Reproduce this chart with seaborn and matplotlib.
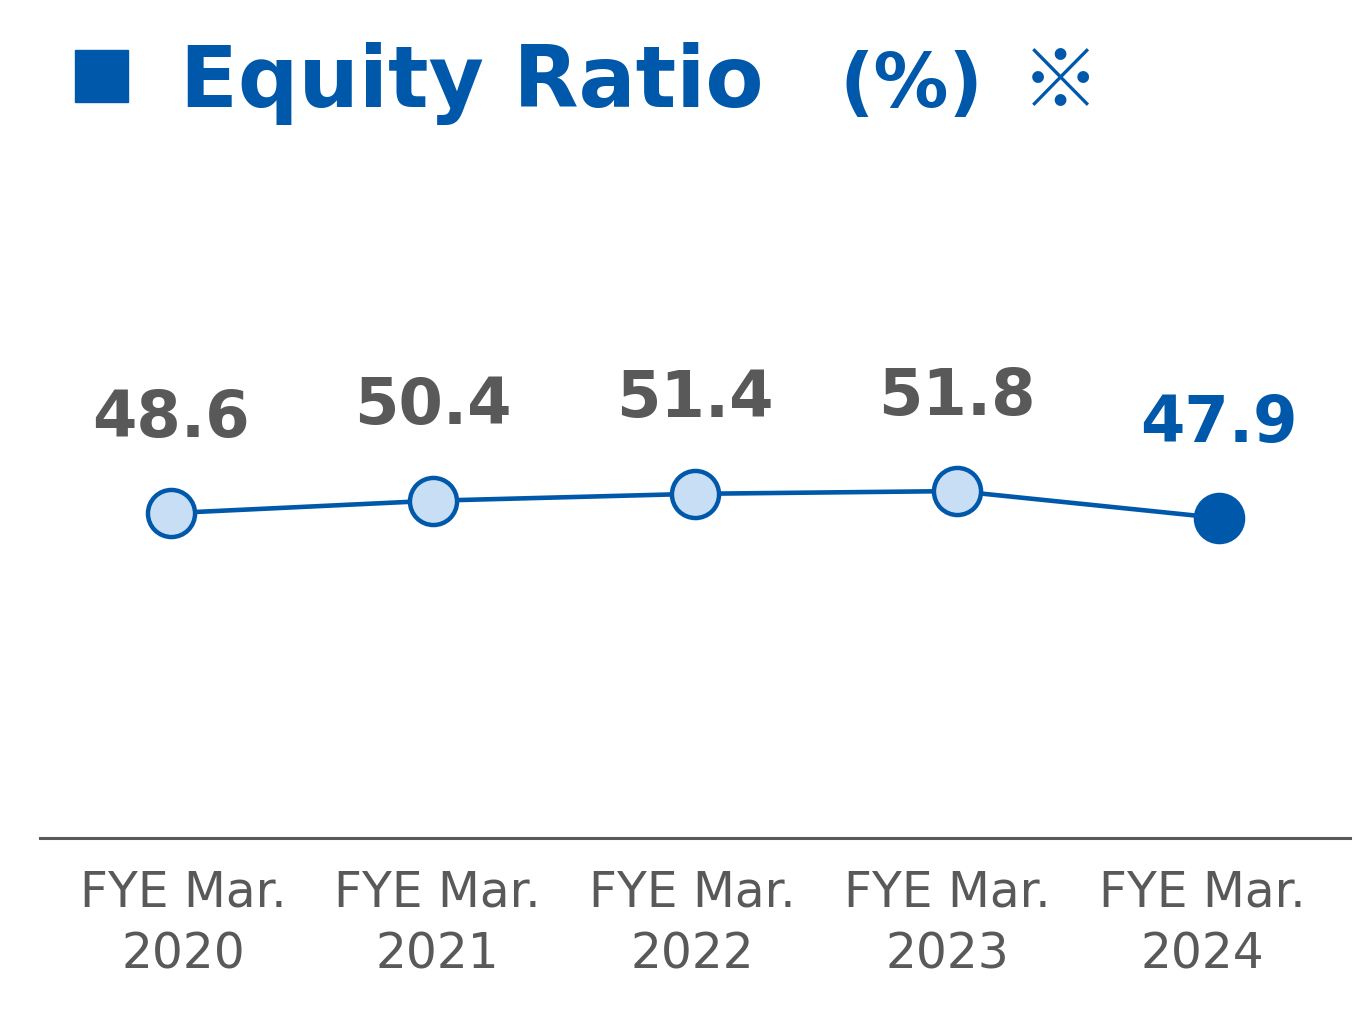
import matplotlib
matplotlib.use('Agg')
import matplotlib.pyplot as plt
import seaborn as sns
from matplotlib.patches import Rectangle

# Data
years = ['2020', '2021', '2022', '2023', '2024']
equity_ratio = [48.6, 50.4, 51.4, 51.8, 47.9]
tick_labels = ['FYE Mar.\n' + y for y in years]

BLUE = '#0058AB'
LIGHT = '#C8DEF5'
GRAY = '#595959'

sns.set_style('white')
plt.rcParams['font.family'] = ['DejaVu Sans', 'Noto Sans CJK JP']

fig = plt.figure(figsize=(13.55, 10.22), dpi=100)
W, H = 1355, 1022
ax = fig.add_axes([40 / W, 1 - 838 / H, 1310 / W, (838 - 180) / H])

idx = list(range(len(years)))
sns.lineplot(x=idx, y=equity_ratio, color=BLUE, linewidth=3.3, ax=ax, zorder=2)
sns.scatterplot(x=idx[:-1], y=equity_ratio[:-1], s=1150, color=LIGHT,
                edgecolor=BLUE, linewidth=3.2, ax=ax, zorder=3)
sns.scatterplot(x=idx[-1:], y=equity_ratio[-1:], s=1150, color=BLUE,
                edgecolor=BLUE, linewidth=3.2, ax=ax, zorder=3)

# value labels
for i, v in enumerate(equity_ratio):
    c = BLUE if i == len(equity_ratio) - 1 else GRAY
    ax.annotate(f'{v:.1f}', (i, v), xytext=(0, 55), textcoords='offset points',
                ha='center', va='baseline', fontsize=46, fontweight='bold', color=c)

ax.set_xlim(-0.5, 4.5)
ax.set_ylim(1.5, 96.9)
ax.set_yticks([])
ax.set_xticks([])
for s in ['top', 'left', 'right']:
    ax.spines[s].set_visible(False)
ax.spines['bottom'].set_color(GRAY)
ax.spines['bottom'].set_linewidth(2.2)

# category labels on their own axis
ax2 = ax.twiny()
ax2.set_xlim(-0.561, 4.581)
ax2.xaxis.set_ticks_position('bottom')
ax2.set_xticks(idx)
ax2.set_xticklabels(tick_labels, fontsize=35, color=GRAY, linespacing=1.38)
ax2.tick_params(axis='x', length=0, pad=22)
for s in ax2.spines.values():
    s.set_visible(False)

# title
fig.patches.append(Rectangle((75 / W, 1 - 102 / H), 53 / W, 52 / H,
                             transform=fig.transFigure, color=BLUE))
fig.text(180 / W, 1 - 107 / H, 'Equity Ratio', fontsize=61, fontweight='bold',
         color=BLUE, va='baseline', ha='left')
fig.text(840 / W, 1 - 107 / H, '(%)', fontsize=54, fontweight='bold',
         color=BLUE, va='baseline', ha='left')
fig.text(1060 / W, 1 - 84 / H, '※', fontsize=57, color=BLUE,
         family=['Noto Sans CJK JP', 'DejaVu Sans'], fontweight='bold',
         va='center', ha='center')

fig.savefig('out.png', dpi=100)
